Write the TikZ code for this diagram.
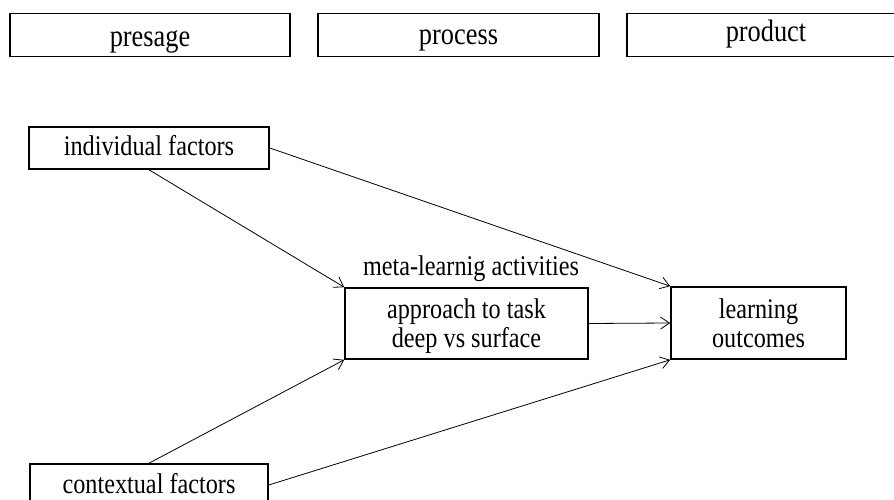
\documentclass[tikz,border=0pt]{standalone}
\usepackage{fontspec}
\usepackage{graphicx}
\setmainfont{Liberation Serif}
\usetikzlibrary{arrows.meta}
% the printed text is narrow and tall
\newcommand\sq[1]{\scalebox{0.85}[1]{#1}}
\tikzset{
  stagebox/.style={draw, line width=1.6pt, inner sep=0pt, minimum height=43pt, font=\fontsize{31}{34}\selectfont},
  factorbox/.style={draw, line width=1.6pt, inner sep=0pt, font=\fontsize{28.5}{29}\selectfont, align=center},
  arr/.style={line width=0.8pt, -{Straight Barb[length=9pt,width=12pt]}}
}

\begin{document}
\begin{tikzpicture}[x=1pt, y=-1pt]
		%%%%% START %%%%%
		\useasboundingbox (0, 0) rectangle (894, 500);
		
		% stages along the top
		\node[stagebox, minimum width=280pt, text height=26pt, text depth=2pt] (presage) at (150, 35) {\sq{presage}};
		\node[stagebox, minimum width=281pt, text height=24pt, text depth=4pt] (process) at (458.5, 35) {\sq{process}};
		\node[stagebox, minimum width=278pt, text height=21pt, text depth=7pt] (product) at (766, 35) {\sq{product}};
		
		% factors
		\node[factorbox, minimum width=240pt, minimum height=42pt, text height=20pt, text depth=4pt] (indiv) at (149, 148) {\sq{individual factors}};
		\node[factorbox, minimum width=238pt, minimum height=42pt, text height=20pt, text depth=4pt] (context) at (149, 485) {\sq{contextual factors}};
		
		\node[factorbox, minimum width=243pt, minimum height=71pt] (approach) at (466.5, 323.5) {\rule{0pt}{26pt}\sq{approach to task}\\\sq{deep vs surface}};
		\node[font=\fontsize{28.5}{29}\selectfont, anchor=base, inner sep=0pt] (meta) at (471, 275) {\sq{meta-learnig activities}};
		
		\node[factorbox, minimum width=175pt, minimum height=72pt] (outcome) at (758.5, 323) {\sq{learning}\\\sq{outcomes}};
		
		% connectors
		\draw[arr] (indiv.south) -- (approach.north west);
		\draw[arr] (indiv.east) -- (outcome.north west);
		\draw[arr] (approach.east) -- (outcome.west);
		\draw[arr] (context.north) -- (approach.south west);
		\draw[arr] (context.east) -- (outcome.south west);
		
		%%%%% END %%%%%
\end{tikzpicture}
\end{document}
